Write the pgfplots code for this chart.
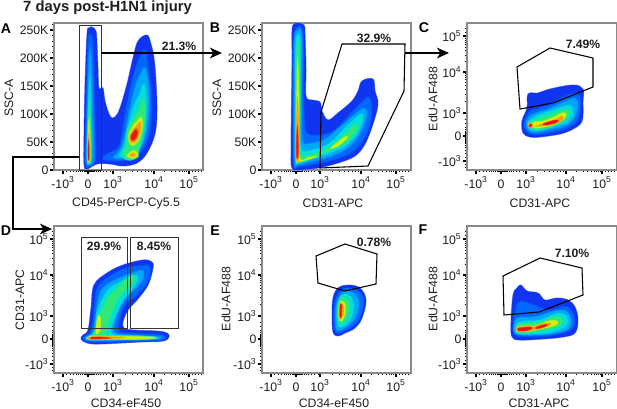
\documentclass[border=0pt]{standalone}
\usepackage{fontspec}
\setmainfont{Liberation Sans}
\usepackage{pgfplots}
\pgfplotsset{compat=1.18}
\usetikzlibrary{arrows.meta}

% one axis unit = one pixel of the 617x408 picture
\def\px{0.75pt}

\definecolor{c0}{HTML}{1034F0}
\definecolor{c1}{HTML}{0068FF}
\definecolor{c2}{HTML}{00A8F8}
\definecolor{c3}{HTML}{00E0D8}
\definecolor{c4}{HTML}{30E878}
\definecolor{c5}{HTML}{D0F010}
\definecolor{c6}{HTML}{FF9810}
\definecolor{c7}{HTML}{E81810}
\definecolor{frame}{HTML}{8A8A8A}
\definecolor{ink}{HTML}{1E1E1E}

% density level: colour, colour of the level below, outline
\newcommand\lev[3]{%
  \addplot[smooth cycle,tension=.6,no markers,draw=#1!20!#2,fill=#1!20!#2,line width=2.4pt] coordinates {#3};
  \addplot[smooth cycle,tension=.6,no markers,draw=#1!45!#2,fill=#1!45!#2,line width=1.7pt] coordinates {#3};
  \addplot[smooth cycle,tension=.6,no markers,draw=#1!72!#2,fill=#1!72!#2,line width=1pt] coordinates {#3};
  \addplot[smooth cycle,tension=.6,no markers,draw=#1,fill=#1,line width=.2pt] coordinates {#3};
}
% the same for thin streaks and for the outermost edge
\newcommand\levt[3]{%
  \addplot[smooth cycle,tension=.6,no markers,draw=#1!50!#2,fill=#1!50!#2,line width=.7pt] coordinates {#3};
  \addplot[smooth cycle,tension=.6,no markers,draw=none,fill=#1] coordinates {#3};
}
\newcommand\gate[1]{\addplot[black,line width=.8pt,no markers] coordinates {#1} --cycle;}
\newcommand\ggate[1]{\addplot[black!80,line width=.6pt,no markers] coordinates {#1} --cycle;}
\newcommand\pct[3]{\node[font=\fontsize{9.1}{11}\selectfont\bfseries,inner sep=0pt,text=ink] at (axis cs:#1,#2) {#3};}
\newcommand\letter[3]{\node[font=\fontsize{10.6}{12}\selectfont\bfseries,inner sep=0pt] at (axis cs:#1,#2) {#3};}
\newcommand\e[1]{10\textsuperscript{#1}}

\pgfplotsset{
  panel/.style={
    scale only axis,width=149*\px,height=147*\px,
    y dir=reverse,clip=false,
    axis line style={draw=frame,line width=.9pt},
    xtick pos=lower,ytick pos=left,tick align=outside,
    major tick length=3pt,minor tick length=1.6pt,
    major tick style={black,line width=1pt},
    minor tick style={black,line width=.55pt},
    tick label style={font=\fontsize{9.2}{11}\selectfont,text=ink},
    label style={font=\fontsize{9.2}{11}\selectfont,text=ink},
    xticklabel style={anchor=base,yshift=-10.5pt},
    yticklabel style={inner xsep=1pt},
    scaled ticks=false,
    xlabel style={anchor=center},ylabel style={anchor=center},
  },
  xA/.style={xmin=54,xmax=203,
    xtick={63,88,113,154,189},
    xticklabels={-\e{3},0,\e{3},\e{4},\e{5}},
    minor xtick={66,70,73,76,78,80,82,84,85,86,87,87.5,88.5,89,90,91,92,93,94,96,98,100,103,106,110,125,132,137,141,145,148,151,153,164,171,175,179,182,184,186,188,192,195,198,201}},
  xB/.style={xmin=262,xmax=411,
    xtick={271,296,320,361,396},
    xticklabels={-\e{3},0,\e{3},\e{4},\e{5}},
    minor xtick={274,278,281,284,286,288,290,292,293,294,295,295.5,296.5,297,298,299,300,301,302,304,306,308,311,314,318,332,339,344,348,352,355,358,360,371,378,382,386,389,391,393,395,399,402,405,408}},
  xC/.style={xmin=467,xmax=617,
    xtick={476,501,526,566,602},
    xticklabels={-\e{3},0,\e{3},\e{4},\e{5}},
    minor xtick={479,483,486,489,491,493,495,497,498,499,500,500.5,501.5,502,503,504,505,506,507,509,511,513,516,519,523,537,544,549,553,557,560,563,565,576,583,587,591,594,596,598,600,605,608,611,614}},
  ylinear/.style={ymin=22,ymax=169,
    ytick={29,57,85,113,141,169},
    yticklabels={250K,200K,150K,100K,50K,0},
    minor ytick={23.4,34.6,40.2,45.8,51.4,62.6,68.2,73.8,79.4,90.6,96.2,101.8,107.4,118.6,124.2,129.8,135.4,146.6,152.2,157.8,163.4}},
  ylogtop/.style={ymin=22,ymax=169,
    ytick={35,71,112,135,160},
    yticklabels={\e{5},\e{4},\e{3},0,-\e{3}},
    minor ytick={27,31,37,39,41,43,46,49,54,60,72,74,76,78,81,84,88,93,100,118,122,126,128,130,131,132,133,134,136,137,138,139,140,141,142,144,146,149,152,156,163,166}},
  ylogbot/.style={ymin=226,ymax=373,
    ytick={239,275,316,339,364},
    yticklabels={\e{5},\e{4},\e{3},0,-\e{3}},
    minor ytick={231,235,241,243,245,247,250,253,258,264,276,278,280,282,285,288,292,297,304,322,326,330,332,334,335,336,337,338,340,341,342,343,344,345,346,348,350,353,356,360,367,370}},
}

\begin{document}
\begin{tikzpicture}
\useasboundingbox (0,0) rectangle (617*\px,408*\px);

% A
\begin{axis}[panel,xA,ylinear,at={(54*\px,385*\px)},anchor=north west,
  xlabel={CD45-PerCP-Cy5.5},xlabel style={at={(axis cs:126,202)}},
  ylabel={SSC-A},ylabel style={at={(axis cs:9,97)}}]
\levt{c0}{white}{(92,26)(96,30)(97,43)(98,67)(99,87)(103,87)(105,100)(110,115)(115,116)(120,107)(127,83)(133,57)(138,40)(147,34)(151,43)(154,57)(156,80)(157,110)(155,133)(147,152)(137,162)(123,165)(110,163)(97,163)(87,168)(84,163)(84,133)(85,83)(87,33)(89,27)}
\lev{c1}{c0}{(90,34)(92,40)(93,70)(94,110)(95,150)(94,161)(89,164)(86,160)(87,110)(88,60)(89,40)}
\lev{c1}{c0}{(145,50)(148,70)(151,100)(150,125)(145,143)(136,155)(124,159)(110,159)(103,158)(108,153)(119,147)(123,130)(127,105)(134,75)(140,57)}
\lev{c2}{c1}{(90,52)(91,70)(92,110)(93,150)(92,161)(89,163)(87,158)(88,110)(89,70)}
\lev{c2}{c1}{(145,68)(148,85)(148,110)(146,130)(141,145)(133,153)(122,157)(114,156)(120,150)(125,135)(130,110)(136,85)(141,73)}
\levt{c3}{c2}{(89.8,75)(91,110)(91.5,150)(90.5,161)(88.5,163)(87,157)(88,110)}
\lev{c3}{c2}{(144,84)(146,105)(144,130)(140,144)(133,152)(124,155)(120,154)(125,144)(129,125)(134,106)(140,94)}
\levt{c4}{c3}{(89.5,100)(90.7,130)(90.8,158)(88.5,162)(87.3,155)(88.2,120)}
\lev{c4}{c3}{(143,99)(144.5,110)(143.5,125)(141,137)(138,149)(135,156)(130,158)(124,156)(125,150)(127,143)(128,130)(133,119)(139,110)}
\levt{c5}{c4}{(89,118)(90,135)(90,158)(88.5,161)(87.7,152)(88.2,130)}
\lev{c5}{c4}{(141,117)(142,125)(139,137)(135,143)(131,143)(129,135)(133,126)(138,120)}
\lev{c5}{c4}{(136,151)(137,155)(132,156.5)(128,155)(130,152)(134,150)}
\levt{c6}{c5}{(88.8,132)(89.5,145)(89.5,158)(88.3,160)(87.8,150)}
\lev{c6}{c5}{(140,122)(140,128)(137,137)(134,141)(131,140)(131,135)(134,129)(138,124)}
\levt{c6}{c5}{(135,152.5)(135,155)(132,155.5)(130,154.5)(132,152.5)}
\levt{c7}{c6}{(88.6,140)(89.2,150)(89,158)(88.2,158)(88,148)}
\lev{c7}{c6}{(136,129)(137,133)(134.5,138)(132,138.5)(131.5,135)(133.5,132)}
\ggate{(79,24)(101,24)(101,169)(79,169)}
\addplot[black,line width=1.1pt,no markers,-{Stealth[length=9pt,width=8pt,inset=2.5pt]}] coordinates {(101,52)(222,52)};
\addplot[black,line width=1.1pt,no markers,-{Stealth[length=9pt,width=8pt,inset=2.5pt]}] coordinates {(79,156)(13,156)(13,228)(52,228)};
\pct{179}{45}{21.3\%}
\letter{6}{28}{A}
\node[font=\fontsize{11.1}{13}\selectfont\bfseries,inner sep=0pt,anchor=base,text=ink] at (axis cs:107.5,10) {7 days post-H1N1 injury};
\end{axis}

% B
\begin{axis}[panel,xB,ylinear,at={(262*\px,385*\px)},anchor=north west,
  xlabel={CD31-APC},xlabel style={at={(axis cs:333,202)}},
  ylabel={SSC-A},ylabel style={at={(axis cs:217,97)}}]
\levt{c0}{white}{(298,22)(304,24)(305,33)(306,67)(306,95)(312,99)(320,101)(322,110)(328,119)(338,112)(352,100)(358,90)(362,80)(373,78)(375,90)(378,103)(373,123)(365,143)(355,155)(338,162)(318,167)(298,169)(292,167)(291,150)(292,67)(292,30)(294,23)}
\lev{c1}{c0}{(298,26)(302,30)(303,60)(303,100)(304,120)(306,132)(318,135)(335,130)(350,114)(362,102)(369,97)(371,112)(367,130)(357,146)(345,154)(330,159)(312,163)(298,165)(294,161)(293.5,100)(294,40)}
\lev{c2}{c1}{(298,30)(301,36)(301,100)(302,140)(310,143)(325,139)(340,127)(355,114)(364,108)(366,115)(360,131)(350,144)(335,153)(315,159)(298,163)(295,158)(294.8,100)(295,40)}
\levt{c3}{c2}{(298,33)(300.5,45)(300.5,110)(301,147)(312,149)(330,142)(345,127)(358,115)(363,114)(360,128)(349,142)(335,150)(315,157)(299,162)(295.5,157)(295.2,100)(295.5,45)}
\levt{c4}{c3}{(298,40)(299.7,70)(299.7,130)(300.5,153)(315,153)(330,146)(345,133)(356,123)(357,128)(349,139)(335,147)(318,154)(300,160)(296,156)(296,100)(296.3,60)}
\levt{c5}{c4}{(297.7,58)(298.9,100)(299.2,155)(310,156)(318,155)(312,157)(299,160.5)(296.5,155)(296.6,100)}
\levt{c5}{c4}{(331,147)(345,136)(347,137)(338,145)}
\levt{c6}{c5}{(297.6,97)(298.6,125)(298.8,156)(297.4,160)(296.3,155)(296.6,120)}
\levt{c7}{c6}{(297.4,125)(298.3,145)(298,156)(296.6,156)(296.5,140)}
\gate{(342,43)(405,43)(404,90)(368,165)(320,167)(321,111)}
\addplot[black,line width=1.1pt,no markers,-{Stealth[length=9pt,width=8pt,inset=2.5pt]}] coordinates {(405,52)(449,52)};
\pct{374}{37}{32.9\%}
\letter{215}{27}{B}
\end{axis}

% C
\begin{axis}[panel,xC,ylogtop,at={(467*\px,385*\px)},anchor=north west,width=150*\px,
  xlabel={CD31-APC},xlabel style={at={(axis cs:540,202)}},
  ylabel={EdU-AF488},ylabel style={at={(axis cs:433,98)}}]
\levt{c0}{white}{(528,93)(538,92)(550,88)(573,84)(583,88)(583,100)(582,120)(573,128)(560,133)(540,136)(530,136)(523,132)(522,120)(527,107)}
\lev{c1}{c0}{(535,109)(550,104)(565,96)(577,93)(580,100)(578,116)(570,125)(555,130)(535,133)(526,129)(525,120)(530,111)}
\lev{c2}{c1}{(535,113)(550,108)(565,101)(575,98)(577,105)(574,117)(565,124)(550,128)(535,131)(528,128)(527,120)(531,115)}
\lev{c3}{c2}{(540,114)(555,109)(567,105)(572,107)(572,114)(565,121)(550,126)(535,129)(529,126)(529,121)(534,117)}
\lev{c4}{c3}{(545,116)(558,111)(566,109)(569,112)(565,118)(553,124)(537,128)(531,125)(532,122)(538,118)}
\levt{c5}{c4}{(552,117)(562,112)(566,113)(563,119)(552,124)(538,127)(531,125)(534,121)(543,120)}
\levt{c6}{c5}{(555,119)(561,115)(563,116)(561,120)(550,124)(540,125)(536,125)}
\levt{c6}{c5}{(528.5,122)(533,124)(530,127)}
\levt{c7}{c6}{(548,121)(556,119)(558,120)(555,122)(546,124)(543,123)}
\levt{c7}{c6}{(530,123)(532,124)(530,126)(529,125)}
\gate{(517,66)(550,47)(593,57)(593,86)(553,102)(520,108)}
\pct{583}{43}{7.49\%}
\letter{424}{27}{C}
\end{axis}

% D
\begin{axis}[panel,xA,ylogbot,at={(54*\px,182*\px)},anchor=north west,
  xlabel={CD34-eF450},xlabel style={at={(axis cs:126,403)}},
  ylabel={CD31-APC},ylabel style={at={(axis cs:20,300)}}]
\levt{c0}{white}{(143,260)(152,262)(153,268)(148,285)(137,300)(128,310)(123,322)(124,328)(133,330)(157,331)(167,333)(169,337)(163,341)(140,342)(100,344)(87,343)(81,339)(83,335)(88,330)(91,308)(94,285)(107,273)(123,265)}
\lev{c1}{c0}{(143,266)(149,267)(148,280)(137,294)(125,304)(119,320)(119,332)(135,334)(158,335)(165,337)(160,339.5)(130,340.5)(100,341.5)(87,340.5)(84,338)(89,334)(93,326)(95,305)(98,288)(108,278)(125,269)}
\levt{c2}{c1}{(135,272)(143,271)(142,281)(131,293)(123,302)(116,318)(115,333)(140,335.5)(160,337)(155,339.5)(120,340.3)(95,340.7)(86,339.8)(86,336.5)(92,334)(95,320)(98,300)(103,288)(115,280)}
\levt{c3}{c2}{(132,275)(138,277)(134,287)(125,297)(118,310)(113,322)(112,334)(130,335.5)(155,337)(140,339)(100,340)(87,339)(90,335.5)(95,331)(97,312)(103,298)(110,288)(122,281)}
\levt{c4}{c3}{(131,276)(135,279)(128,288)(118,298)(113,310)(108,325)(107,335)(125,336)(155,337.3)(150,339)(110,339.5)(88,339)(92,335.5)(97,326)(99,314)(103,308)(106,300)(115,290)(122,283)}
\levt{c5}{c4}{(98,316)(100.5,318)(100,330)(97,334)(96,330)}
\levt{c5}{c4}{(92,336)(120,336.3)(150,337)(155,338)(140,339)(110,339)(88,338.5)(90,336.8)}
\levt{c6}{c5}{(90,337)(105,336.7)(125,337.5)(105,339)(90,339)(88,338)}
\levt{c7}{c6}{(92,337.2)(102,337.2)(110,338)(100,338.8)(91,338.8)}
\ggate{(81,237)(127.7,237)(127.7,328)(81,328)}
\ggate{(130.3,237)(178,237)(178,328)(130.3,328)}
\pct{104}{246}{29.9\%}
\pct{154}{246}{8.45\%}
\letter{6}{231}{D}
\end{axis}

% E
\begin{axis}[panel,xB,ylogbot,at={(262*\px,182*\px)},anchor=north west,
  xlabel={CD34-eF450},xlabel style={at={(axis cs:334,403)}},
  ylabel={EdU-AF488},ylabel style={at={(axis cs:226,299)}}]
\levt{c0}{white}{(348,285)(360,288)(366,300)(362,318)(355,328)(345,333)(338,336)(333,332)(332,315)(333,298)(338,288)}
\levt{c1}{c0}{(348,288)(358,291)(364,300)(360,317)(353,326)(342,332)(337,333)(334,326)(334,310)(336,298)(341,290)}
\levt{c2}{c1}{(347,291)(355,294)(359,303)(356,316)(349,325)(340,330)(336,328)(335.5,310)(338,299)(342,293)}
\levt{c3}{c2}{(345,294)(351,297)(354,307)(351,318)(345,325)(339,327)(337,318)(337.5,305)(340,297)}
\levt{c4}{c3}{(343,297)(348,300)(349.5,310)(346.5,318)(341,324)(338,318)(338.5,306)(340,299)}
\levt{c5}{c4}{(341,301)(345,304)(345.5,312)(342,321)(339,318)(338.8,308)}
\levt{c6}{c5}{(340.5,303)(343,305)(343.5,312)(341,319)(339.2,315)(339.5,308)}
\levt{c7}{c6}{(340.5,304)(342,306)(341.3,310)(341.5,315)(340.3,318)(339.8,311)}
\gate{(316,256)(345,244)(377,254)(376,284)(345,291)(318,283)}
\pct{374}{242}{0.78\%}
\letter{215}{231}{E}
\end{axis}

% F
\begin{axis}[panel,xC,ylogbot,at={(467*\px,182*\px)},anchor=north west,width=150*\px,
  xlabel={CD31-APC},xlabel style={at={(axis cs:539,403)}},
  ylabel={EdU-AF488},ylabel style={at={(axis cs:433,299)}}]
\levt{c0}{white}{(521,285)(527,291)(538,293)(545,300)(557,298)(568,300)(575,307)(578,320)(575,333)(563,337)(543,339)(520,340)(512,337)(511,322)(513,295)(517,288)}
\lev{c1}{c0}{(520,302)(535,306)(548,311)(565,307)(572,313)(574,323)(569,330)(550,335)(525,336)(515,334)(514,322)(516,311)}
\levt{c2}{c1}{(518,318)(535,317)(555,311)(566,311)(571,320)(568,329)(550,334)(525,335)(515,333)(514,325)}
\levt{c3}{c2}{(520,322)(540,320)(555,314)(564,314)(568,322)(563,328)(545,333)(522,334)(516,332)(516,326)}
\levt{c4}{c3}{(520,324)(540,322)(553,317)(560,317)(563,322)(557,327)(540,331)(522,333)(517,331)(517,327)}
\levt{c5}{c4}{(520,326)(535,326)(548,321)(557,321)(556,325)(540,329)(525,331.5)(518,330.5)(518,328)}
\levt{c6}{c5}{(518,327)(532,326)(535,329)(528,331)(518,331.5)(516.5,329.5)}
\levt{c6}{c5}{(534,327)(546,323)(551,324)(545,327)(536,329.5)}
\levt{c7}{c6}{(519,328)(530,327.2)(532,328.5)(527,330.5)(519,330.8)(517.5,329.5)}
\levt{c7}{c6}{(537,327)(545,324.7)(547,325.5)(541,327.8)(536,328.6)}
\gate{(503,276)(540,258)(582,268)(583,295)(539,312)(504,315)}
\pct{572}{253}{7.10\%}
\letter{423}{230}{F}
\end{axis}
\end{tikzpicture}
\end{document}
